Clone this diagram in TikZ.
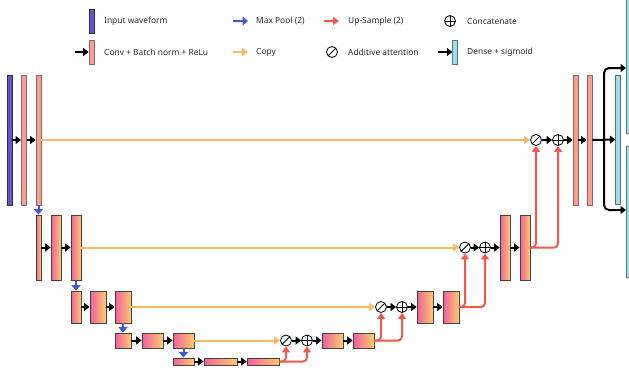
\documentclass[tikz,border=0pt]{standalone}
\usepackage{fontspec}
\setmainfont{Noto Sans}
\usepackage{tikz}
\usetikzlibrary{arrows.meta,positioning}
\definecolor{wavepurple}{HTML}{6A52C9}
\definecolor{wavebd}{HTML}{2E2A5A}
\definecolor{salmon}{HTML}{F7A08C}
\definecolor{convbd}{HTML}{8A6470}
\definecolor{gradpink}{HTML}{F0609E}
\definecolor{gradyel}{HTML}{FDCB70}
\definecolor{gradbd}{HTML}{4A4438}
\definecolor{denseblue}{HTML}{A7D7EA}
\definecolor{densebd}{HTML}{4E7D7D}
\definecolor{poolblue}{HTML}{3B5BD9}
\definecolor{copyorange}{HTML}{FDB863}
\definecolor{upred}{HTML}{F4584A}
\definecolor{textgray}{HTML}{2A2A2A}

\begin{document}
\begin{tikzpicture}[x=1pt,y=-1pt,font=\fontsize{8.4}{10}\selectfont,
  wave/.style={draw=wavebd,fill=wavepurple,inner sep=0pt,line width=0.8pt,minimum width=5},
  conv/.style={draw=convbd,fill=salmon,inner sep=0pt,line width=0.8pt,minimum width=5},
  grad/.style={draw=gradbd,left color=gradpink,right color=gradyel,inner sep=0pt,line width=0.8pt},
  dense/.style={draw=densebd,fill=denseblue,inner sep=0pt,line width=0.8pt,minimum width=4.5},
  fwd/.style={line width=2pt,-{Triangle[length=5.5pt,width=8pt]}},
  pool/.style={poolblue,line width=2pt,-{Triangle[length=5.5pt,width=9pt]}},
  copyln/.style={copyorange,line width=2pt,-{Triangle[length=6pt,width=8pt]}},
  upln/.style={upred,line width=2pt,rounded corners=4pt,-{Triangle[length=6pt,width=8pt]}},
  att/.style={circle,draw,fill=white,minimum size=11,inner sep=0pt,line width=0.8pt,
    path picture={\draw[line width=0.8pt] (path picture bounding box.south west) -- (path picture bounding box.north east);}},
  cat/.style={circle,draw,fill=white,minimum size=11,inner sep=0pt,line width=0.8pt,
    path picture={\draw[line width=0.8pt] (path picture bounding box.west) -- (path picture bounding box.east)
      (path picture bounding box.north) -- (path picture bounding box.south);}},
  lbl/.style={anchor=west,inner sep=0pt,text=textgray}]
\useasboundingbox (0,0) rectangle (629,370);
\clip (0,0) rectangle (629,370);

% legend
\node[wave,minimum height=24] (lwave) at (91.5,21.5) {};
\node[conv,minimum height=24] (lconv) at (91.5,52) {};
\coordinate (lconvin) at (75,52);
\draw[fwd] (lconvin) -- (lconv);
\foreach \nm/\sty/\xx/\yy in {lpool/pool/233/21, lcopy/copyln/233/52, lup/upln/324/21} {
  \coordinate (\nm a) at (\xx,\yy);
  \coordinate (\nm b) at (\xx+15,\yy);
  \draw[\sty] (\nm a) -- (\nm b);
}
\node[cat] (lcat) at (450,21) {};
\node[att] (latt) at (332,52) {};
\node[dense,minimum height=24] (ldense) at (455,52) {};
\coordinate (ldensein) at (438,52);
\draw[fwd] (ldensein) -- (ldense);
\node[lbl] (tin) at (104,21) {Input waveform};
\node[lbl] (tconv) at (104,52) {Conv + Batch norm + ReLu};
\node[lbl] (tpool) at (256,21) {Max Pool (2)};
\node[lbl] (tcopy) at (256,52) {Copy};
\node[lbl] (tup) at (348,21) {Up-Sample (2)};
\node[lbl] (tatt) at (348,52) {Additive attention};
\node[lbl] (tcat) at (467,21) {Concatenate};
\node[lbl] (tdense) at (467,52) {Dense + sigmoid};

% blocks, level by level
\node[wave,minimum height=130] (in) at (9.5,140) {};
\foreach \nm/\xx in {c01/24, c02/38.5, d01/575.5, d02/589.5}
  \node[conv,minimum height=130] (\nm) at (\xx,140) {};
\foreach \nm/\xx/\ww in {p11/38.5/5, c11/56/10, c12/76/10, d11/505/10, d12/525/10}
  \node[grad,minimum width=\ww,minimum height=65] (\nm) at (\xx,247.5) {};
\foreach \nm/\xx/\ww in {p21/76/10, c21/98/16, c22/123/16, d21/425/16, d22/451/16}
  \node[grad,minimum width=\ww,minimum height=32] (\nm) at (\xx,307) {};
\foreach \nm/\xx/\ww in {p31/123/16, c31/152.5/21, c32/183.5/21, d31/332.5/21, d32/363.5/21}
  \node[grad,minimum width=\ww,minimum height=15] (\nm) at (\xx,340.5) {};
\foreach \nm/\xx/\ww in {p41/183.5/21, c41/220.5/33, c42/263/32}
  \node[grad,minimum width=\ww,minimum height=7] (\nm) at (\xx,361.5) {};

% output
\node[dense,minimum height=129] (dmid) at (618,139.5) {};
\node[dense,minimum width=8,minimum height=138] (dtop) at (630,64) {};
\node[dense,minimum width=8,minimum height=131] (dbot) at (630,211.5) {};

% attention + concatenation
\foreach \lv/\ya/\xa/\xc in {0/140/536/558, 1/247.5/465/485, 2/307/381/402, 3/340.5/286/307} {
  \node[att] (att\lv) at (\xa,\ya) {};
  \node[cat] (cat\lv) at (\xc,\ya) {};
  \draw[fwd] (att\lv) -- (cat\lv);
}

% connectors
\foreach \aa/\bb in {in/c01, c01/c02, p11/c11, c11/c12, p21/c21, c21/c22, p31/c31, c31/c32,
    p41/c41, c41/c42, cat0/d01, d01/d02, cat1/d11, d11/d12, cat2/d21, d21/d22,
    cat3/d31, d31/d32, d02/dmid}
  \draw[fwd] (\aa) -- (\bb);
\foreach \aa/\bb in {c02/p11, c12/p21, c22/p31, c32/p41}
  \draw[pool] (\aa) -- (\bb);
\foreach \lv/\aa in {0/c02, 1/c12, 2/c22, 3/c32}
  \draw[copyln] (\aa) -- (att\lv);
\foreach \aa/\lv in {c42/3, d32/2, d22/1, d12/0} {
  \draw[upln] (\aa.east) -| (att\lv.south);
  \draw[upln] (\aa.east) -| (cat\lv.south);
}
\coordinate (jn) at (604,140);
\coordinate (hiA) at (626,68);
\coordinate (loA) at (626,210);
\draw[fwd,rounded corners=5pt] (jn) |- (hiA);
\draw[fwd,rounded corners=5pt] (jn) |- (loA);
\end{tikzpicture}
\end{document}
